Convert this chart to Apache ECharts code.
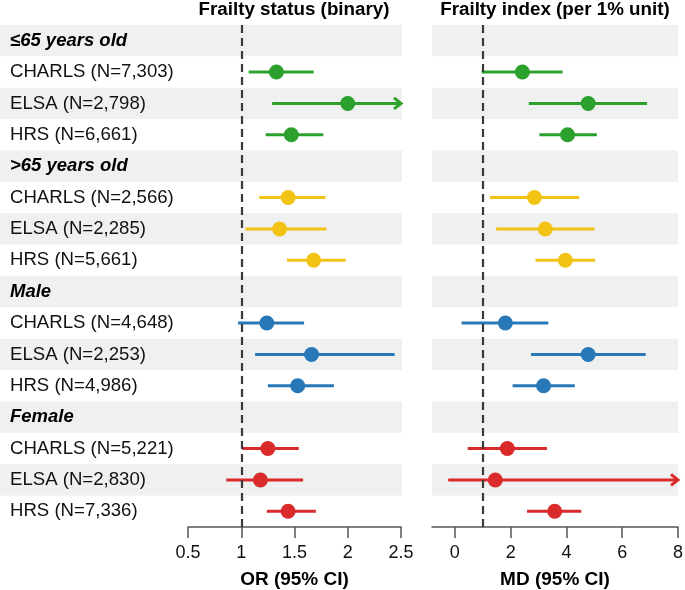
<!DOCTYPE html>
<html>
<head>
<meta charset="utf-8">
<script src="https://cdn.jsdelivr.net/npm/echarts@6/dist/echarts.min.js"></script>
<style>
  html, body { margin: 0; padding: 0; background: #fff; }
  #chart { width: 685px; height: 590px; }
</style>
</head>
<body>
<div id="chart"></div>
<script>
// ---------------- data ----------------
const rowLabels = [
  '≤65 years old', 'CHARLS (N=7,303)', 'ELSA (N=2,798)', 'HRS (N=6,661)',
  '>65 years old', 'CHARLS (N=2,566)', 'ELSA (N=2,285)', 'HRS (N=5,661)',
  'Male', 'CHARLS (N=4,648)', 'ELSA (N=2,253)', 'HRS (N=4,986)',
  'Female', 'CHARLS (N=5,221)', 'ELSA (N=2,830)', 'HRS (N=7,336)'
];
const headerRows = ['≤65 years old', '>65 years old', 'Male', 'Female'];
const groupOfRow = [0,0,0,0, 1,1,1,1, 2,2,2,2, 3,3,3,3];
const groupColors = ['#2ca02c', '#f2c314', '#2878b8', '#d92a2c'];

// Frailty status (binary): OR (95% CI)
const orEst  = [null, 1.33, 2.00, 1.47, null, 1.44, 1.36, 1.68, null, 1.24, 1.66, 1.53, null, 1.25, 1.18, 1.44];
const orLow  = [null, 1.07, 1.29, 1.23, null, 1.17, 1.04, 1.43, null, 0.97, 1.13, 1.25, null, 1.01, 0.86, 1.24];
const orHigh = [null, 1.68, 3.10, 1.77, null, 1.79, 1.80, 1.98, null, 1.59, 2.44, 1.87, null, 1.54, 1.58, 1.70];

// Frailty index (per 1% unit): MD (95% CI)
const mdEst  = [null, 2.42, 4.78, 4.04, null, 2.85, 3.24, 3.96, null, 1.81, 4.78, 3.18, null, 1.88, 1.45, 3.58];
const mdLow  = [null, 0.96, 2.65, 3.03, null, 1.26, 1.48, 2.89, null, 0.24, 2.73, 2.07, null, 0.46, -0.24, 2.59];
const mdHigh = [null, 3.86, 6.89, 5.09, null, 4.46, 5.01, 5.03, null, 3.35, 6.84, 4.30, null, 3.30, 10.5, 4.53];

const orTicks = [0.5, 1, 1.5, 2, 2.5];
const mdTicks = [0, 2, 4, 6, 8];

// ---------------- chart ----------------
const FONT = "'Liberation Sans', Arial, Helvetica, sans-serif";
const chart = echarts.init(document.getElementById('chart'), null, { renderer: 'canvas' });

function buildCI(low, high) {
  const out = [];
  for (let i = 0; i < rowLabels.length; i++) {
    if (low[i] == null) continue;
    out.push([low[i], high[i], i, groupOfRow[i]]);
  }
  return out;
}
function buildPts(est) {
  const out = [];
  for (let i = 0; i < rowLabels.length; i++) {
    if (est[i] == null) continue;
    out.push({ value: [est[i], i], itemStyle: { color: groupColors[groupOfRow[i]], opacity: 1 } });
  }
  return out;
}
function ciRender(params, api) {
  const low = api.value(0), high = api.value(1), row = api.value(2), g = api.value(3);
  const cs = params.coordSys;
  const p1 = api.coord([low, row]);
  const p2 = api.coord([high, row]);
  const xMin = cs.x - 1, xMax = cs.x + cs.width + 1;
  const x1 = Math.max(p1[0], xMin);
  const arrow = p2[0] > xMax;
  const x2 = Math.min(p2[0], xMax);
  const y = p1[1];
  const color = groupColors[g];
  const children = [{
    type: 'line',
    shape: { x1: x1, y1: y, x2: arrow ? x2 - 2 : x2, y2: y },
    style: { stroke: color, lineWidth: 3 }
  }];
  if (arrow) {
    children.push({
      type: 'polyline',
      shape: { points: [[x2 - 8, y - 5.5], [x2 - 1, y], [x2 - 8, y + 5.5]] },
      style: { stroke: color, fill: null, lineWidth: 3, lineJoin: 'miter' }
    });
  }
  return { type: 'group', children: children };
}

const axisGray = '#555';
const labelStyle = { fontFamily: FONT, fontSize: 18, color: '#111' };

const option = {
  animation: false,
  backgroundColor: '#ffffff',
  title: [
    { text: 'Frailty status (binary)', left: 294, top: 0, padding: 0, textAlign: 'center',
      textStyle: { fontFamily: FONT, fontSize: 18.8, fontWeight: 'bold', color: '#000' } },
    { text: 'Frailty index (per 1% unit)', left: 555, top: 0, padding: 0, textAlign: 'center',
      textStyle: { fontFamily: FONT, fontSize: 18.8, fontWeight: 'bold', color: '#000' } }
  ],
  grid: [
    { left: 0, top: 25, width: 402, height: 502, outerBoundsMode: 'none', containLabel: false },
    { left: 188, top: 25, width: 213, height: 502, outerBoundsMode: 'none', containLabel: false },
    { left: 432, top: 25, width: 246, height: 502, outerBoundsMode: 'none', containLabel: false }
  ],
  xAxis: [
    { gridIndex: 0, type: 'value', min: 0, max: 1, show: false },
    { gridIndex: 1, type: 'value', min: 0.5, max: 2.5, interval: 0.5,
      splitLine: { show: false },
      axisLine: { show: true, onZero: false, lineStyle: { color: axisGray, width: 1.5 } },
      axisTick: { show: true, length: 11, lineStyle: { color: axisGray, width: 1.5 } },
      axisLabel: Object.assign({ margin: 17, formatter: v => String(v) }, labelStyle),
      name: 'OR (95% CI)', nameLocation: 'middle', nameGap: 43,
      nameTextStyle: { fontFamily: FONT, fontSize: 19, fontWeight: 'bold', color: '#000' } },
    { gridIndex: 2, type: 'value', min: -0.82, max: 8,
      splitLine: { show: false },
      axisLine: { show: true, onZero: false, lineStyle: { color: axisGray, width: 1.5 } },
      axisTick: { show: true, length: 11, customValues: mdTicks, lineStyle: { color: axisGray, width: 1.5 } },
      axisLabel: Object.assign({ margin: 17, customValues: mdTicks, formatter: v => String(v) }, labelStyle),
      name: 'MD (95% CI)', nameLocation: 'middle', nameGap: 43,
      nameTextStyle: { fontFamily: FONT, fontSize: 19, fontWeight: 'bold', color: '#000' } }
  ],
  yAxis: [
    { gridIndex: 0, type: 'category', inverse: true, data: rowLabels,
      axisLine: { show: false }, axisTick: { show: false },
      splitArea: { show: true, areaStyle: { color: ['#eef1ef', '#ffffff'] } },
      axisLabel: {
        inside: true, margin: 10, interval: 0,
        formatter: v => headerRows.includes(v) ? '{h|' + v + '}' : '{n|' + v + '}',
        rich: {
          h: { fontFamily: FONT, fontSize: 18.5, fontWeight: 'bold', fontStyle: 'italic', color: '#000' },
          n: { fontFamily: FONT, fontSize: 18.6, color: '#111' }
        }
      } },
    { gridIndex: 1, type: 'category', inverse: true, data: rowLabels, show: false },
    { gridIndex: 2, type: 'category', inverse: true, data: rowLabels,
      axisLine: { show: false }, axisTick: { show: false }, axisLabel: { show: false },
      splitArea: { show: true, areaStyle: { color: ['#eef1ef', '#ffffff'] } } }
  ],
  series: [
    { type: 'custom', xAxisIndex: 1, yAxisIndex: 1, renderItem: ciRender,
      encode: { x: [0, 1], y: 2 }, data: buildCI(orLow, orHigh), clip: false, z: 3 },
    { type: 'scatter', xAxisIndex: 1, yAxisIndex: 1, symbolSize: 15, data: buildPts(orEst), z: 4,
      markLine: { silent: true, symbol: 'none', label: { show: false },
        lineStyle: { color: '#3a3a3a', width: 2.2, type: [8, 5] }, data: [{ xAxis: 1 }] } },
    { type: 'custom', xAxisIndex: 2, yAxisIndex: 2, renderItem: ciRender,
      encode: { x: [0, 1], y: 2 }, data: buildCI(mdLow, mdHigh), clip: false, z: 3 },
    { type: 'scatter', xAxisIndex: 2, yAxisIndex: 2, symbolSize: 15, data: buildPts(mdEst), z: 4,
      markLine: { silent: true, symbol: 'none', label: { show: false },
        lineStyle: { color: '#3a3a3a', width: 2.2, type: [8, 5] }, data: [{ xAxis: 1 }] } }
  ]
};
chart.setOption(option);
</script>
</body>
</html>
